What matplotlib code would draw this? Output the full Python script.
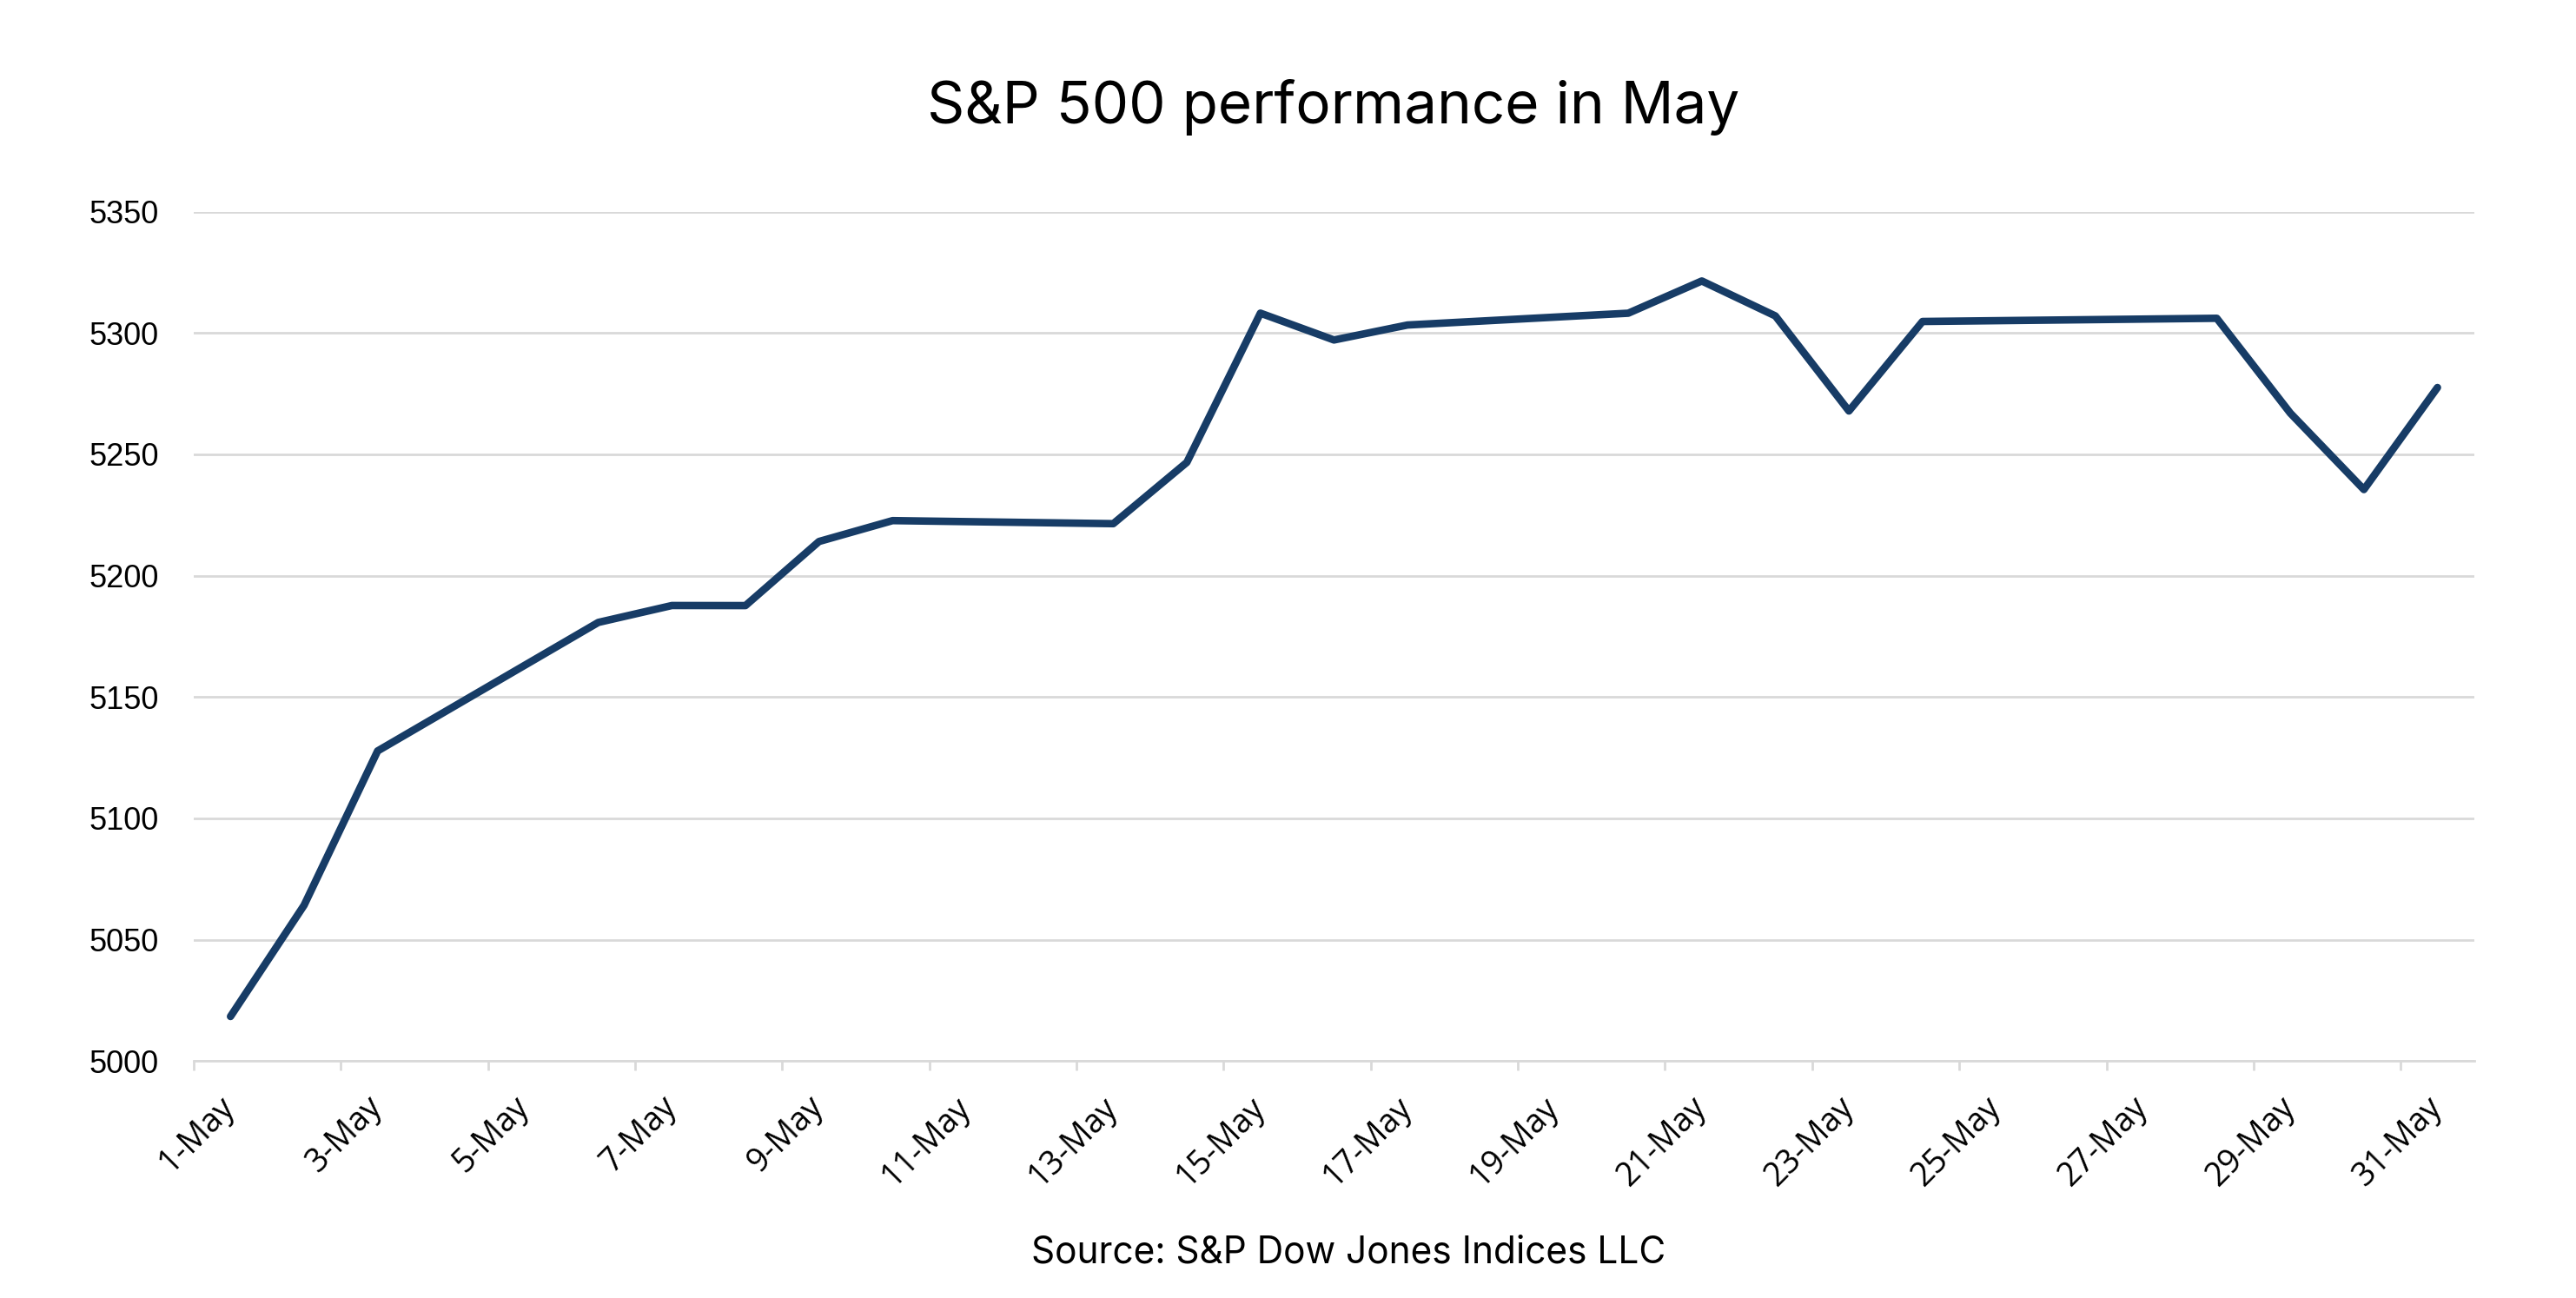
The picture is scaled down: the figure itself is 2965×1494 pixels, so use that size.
import pandas as pd
import matplotlib
matplotlib.use("Agg")
from matplotlib import pyplot as plt
from matplotlib import dates as mdates
from matplotlib.transforms import ScaledTranslation

# S&P 500 daily closes, May 2024 (trading days only)
trade_days = ['2024-05-01', '2024-05-02', '2024-05-03', '2024-05-06', '2024-05-07',
              '2024-05-08', '2024-05-09', '2024-05-10', '2024-05-13', '2024-05-14',
              '2024-05-15', '2024-05-16', '2024-05-17', '2024-05-20', '2024-05-21',
              '2024-05-22', '2024-05-23', '2024-05-24', '2024-05-28', '2024-05-29',
              '2024-05-30', '2024-05-31']
closes = [5018.39, 5064.20, 5127.79, 5180.74, 5187.70,
          5187.67, 5214.08, 5222.68, 5221.42, 5246.68,
          5308.15, 5297.10, 5303.27, 5308.13, 5321.41,
          5307.01, 5267.84, 5304.72, 5306.04, 5266.95,
          5235.48, 5277.51]
y_ticks = [5000, 5050, 5100, 5150, 5200, 5250, 5300, 5350]

title = 'S&P 500 performance in May'
source = 'Source: S&P Dow Jones Indices LLC'

line_color = '#173c66'
grid_color = '#d9d9d9'

df = pd.DataFrame({'date': pd.to_datetime(trade_days), 'close': closes})
# Excel date axis puts each point in the middle of its day
df['x'] = df['date'] + pd.Timedelta(hours=12)

fig = plt.figure(figsize=(29.65, 14.94), dpi=100)
ax = fig.add_axes([0.0752, 0.1825, 0.8853, 0.6545])

ax.plot(df['x'], df['close'], color=line_color, linewidth=6.2,
        solid_capstyle='round', solid_joinstyle='round', zorder=3)

ax.set_xlim(pd.Timestamp('2024-05-01'), pd.Timestamp('2024-06-01'))
ax.set_ylim(5000, 5350)
ax.set_yticks(y_ticks)
ax.grid(axis='y', color=grid_color, linewidth=2.0)
ax.set_axisbelow(True)

for s in ['top', 'right', 'left']:
    ax.spines[s].set_visible(False)
ax.spines['bottom'].set_color(grid_color)
ax.spines['bottom'].set_linewidth(2.0)

x_ticks = pd.date_range('2024-05-01', '2024-05-31', freq='2D')
ax.set_xticks(x_ticks)
ax.xaxis.set_major_formatter(mdates.DateFormatter('%-d-%b'))

ax.tick_params(axis='y', length=0, pad=29, labelsize=26)
ax.tick_params(axis='x', length=8, width=2.0, color=grid_color, pad=26, labelsize=27)

for lab in ax.get_yticklabels():
    lab.set_fontfamily('Liberation Sans')

shift = ScaledTranslation(0.42, 0, fig.dpi_scale_trans)
for lab in ax.get_xticklabels():
    lab.set_fontfamily('Open Sans')
    lab.set_rotation(45)
    lab.set_rotation_mode('anchor')
    lab.set_ha('right')
    lab.set_va('center')
    lab.set_transform(lab.get_transform() + shift)

fig.text(0.5175, 1 - 142 / 1494, title, ha='center', va='baseline',
         fontsize=48.5, family='Inter', color='black')
fig.text(0.5235, 1 - 1453 / 1494, source, ha='center', va='baseline',
         fontsize=30.5, family='Inter', color='black')

fig.savefig('out.png', dpi=100, facecolor='white')
